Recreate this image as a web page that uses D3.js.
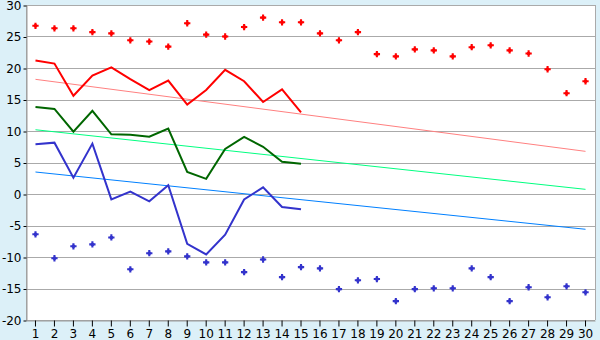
<!DOCTYPE html>
<html><head><meta charset="utf-8">
<script src="https://cdn.jsdelivr.net/npm/d3@7"></script>
<style>body{margin:0;background:#dcf0f8}svg{display:block}</style>
</head><body>
<svg id="c" width="600" height="340"></svg>
<script>
const days = d3.range(1, 31);
const yTicks = [-20, -15, -10, -5, 0, 5, 10, 15, 20, 25, 30];
const maxRecord = [26.7,26.3,26.3,25.7,25.5,24.4,24.2,23.4,27.1,25.3,25.0,26.5,28.0,27.25,27.25,25.5,24.4,25.7,22.2,21.85,22.96,22.8,21.85,23.3,23.6,22.8,22.3,19.8,16.0,17.9];
const minRecord = [-6.4,-10.2,-8.3,-8.0,-6.9,-11.95,-9.4,-9.1,-9.9,-10.85,-10.85,-12.4,-10.4,-13.2,-11.6,-11.8,-15.1,-13.7,-13.5,-17.0,-15.1,-14.97,-14.97,-11.8,-13.2,-17.0,-14.8,-16.4,-14.65,-15.6];
const maxTemp = [21.2,20.7,15.6,18.8,20.1,18.25,16.5,18.0,14.2,16.5,19.7,17.9,14.6,16.6,12.97];
const meanTemp = [13.8,13.5,9.9,13.2,9.47,9.4,9.1,10.4,3.5,2.4,7.14,9.05,7.5,5.13,4.8];
const minTemp = [7.9,8.15,2.6,8.0,-0.85,0.37,-1.16,1.38,-7.9,-9.6,-6.46,-0.86,1.06,-2.06,-2.43];
const normMax = [18.2, 6.77];
const normMean = [10.2, 0.74];
const normMin = [3.49, -5.6];

const svg = d3.select("#c");
const L = 26, R = 595, T = 5, B = 320;
const x = d3.scaleBand().domain(days).range([L, R]);
const cx = d => x(d) + x.bandwidth() / 2;
const y = d3.scaleLinear().domain([-20, 30]).range([B, T]);

svg.append("rect").attr("x", L).attr("y", T).attr("width", R - L).attr("height", B - T).attr("fill", "#fff");

svg.append("g").selectAll("line").data(yTicks).join("line")
  .attr("x1", L).attr("x2", R).attr("y1", d => Math.round(y(d)) + 0.5).attr("y2", d => Math.round(y(d)) + 0.5)
  .attr("stroke", "#aaa").attr("stroke-width", 1);
svg.append("line").attr("x1", R + 0.5).attr("x2", R + 0.5).attr("y1", T).attr("y2", B).attr("stroke", "#aaa");
svg.append("line").attr("x1", L + 0.5).attr("x2", L + 0.5).attr("y1", T).attr("y2", B).attr("stroke", "#aaa");

const yAxis = svg.append("g").attr("transform", `translate(${L + 0.5},0.5)`)
  .call(d3.axisLeft(y).tickValues(yTicks).tickSize(3).tickSizeOuter(0).tickPadding(2).tickFormat(d => String(d)));
yAxis.select(".domain").attr("stroke", "#999");
yAxis.selectAll(".tick line").attr("stroke", "#000");
yAxis.selectAll("text").attr("font-family", "DejaVu Sans").attr("font-size", 12).attr("fill", "#000");

const xAxis = svg.append("g").attr("transform", `translate(0,${B + 0.5})`)
  .call(d3.axisBottom(x).tickSize(6).tickSizeOuter(0).tickPadding(3));
xAxis.select(".domain").attr("stroke", "#999");
xAxis.selectAll(".tick line").attr("stroke", "#000");
xAxis.selectAll("text").attr("font-family", "DejaVu Sans").attr("font-size", 12).attr("fill", "#000");

function trend(v, color) {
  svg.append("line").attr("x1", cx(1)).attr("x2", cx(30)).attr("y1", y(v[0])).attr("y2", y(v[1]))
    .attr("stroke", color).attr("stroke-width", 1);
}
trend(normMax, "#ff8080");
trend(normMean, "#00ff80");
trend(normMin, "#0080ff");

const line = d3.line().x((d, i) => cx(i + 1)).y(d => y(d));
function series(v, color) {
  svg.append("path").datum(v).attr("d", line).attr("fill", "none").attr("stroke", color).attr("stroke-width", 2);
}
series(maxTemp, "#ff0000");
series(meanTemp, "#006600");
series(minTemp, "#3333cc");

const sym = d3.symbol().type(d3.symbolCross).size(22);
function markers(v, color) {
  const g = svg.append("g").selectAll("g").data(v).join("g")
    .attr("transform", (d, i) => `translate(${cx(i + 1)},${y(d)})`);
  g.append("path").attr("d", sym).attr("fill", color);
  g.append("path").attr("d", d3.symbol().type(d3.symbolSquare).size(9)).attr("fill", color);
}
markers(maxRecord, "#ff0000");
markers(minRecord, "#3333cc");
</script>
</body></html>
